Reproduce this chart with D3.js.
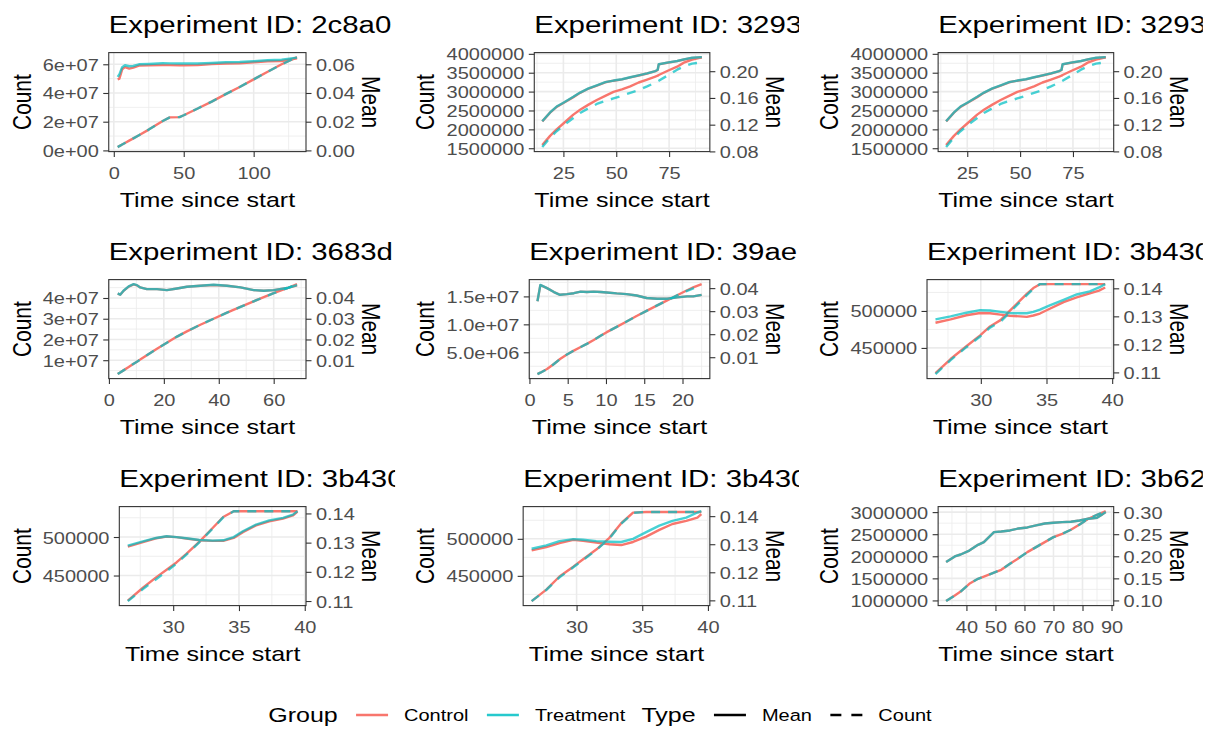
<!DOCTYPE html>
<html>
<head>
<meta charset="utf-8">
<script src="https://cdn.jsdelivr.net/npm/d3@7"></script>
<style>
  html, body { margin: 0; padding: 0; background: #ffffff; }
  svg { display: block; font-family: "Liberation Sans", Arial, Helvetica, sans-serif; }
</style>
</head>
<body>
<svg id="chart" width="1219" height="733"></svg>
<script>
// ------------------------------------------------------------------
// Data: cumulative count and running mean per group, per experiment
// ------------------------------------------------------------------
const groups = ["Control", "Treatment"];
const types = ["Mean", "Count"];

// Experiment 2c8a0
const time_2c8a0 = [2.8, 4, 6, 8, 11, 14, 18, 25, 35, 40, 47, 50, 60, 70, 80, 90, 100, 110, 120, 131];
const ctrlMean_2c8a0 = [0.0494, 0.0500, 0.0565, 0.0580, 0.0570, 0.0577, 0.0591, 0.0593, 0.0595, 0.0594, 0.0593, 0.0593, 0.0595, 0.0602, 0.0605, 0.0607, 0.0614, 0.0621, 0.0623, 0.0642];
const trtMean_2c8a0 = [0.0512, 0.0530, 0.0580, 0.0593, 0.0586, 0.0588, 0.0600, 0.0602, 0.0607, 0.0606, 0.0605, 0.0605, 0.0605, 0.0609, 0.0614, 0.0616, 0.0621, 0.0628, 0.0632, 0.0646];
const ctrlCount_2c8a0 = [2.3e6, 3.0e6, 4.1e6, 5.2e6, 6.8e6, 8.4e6, 1.06e7, 1.45e7, 2.05e7, 2.30e7, 2.32e7, 2.45e7, 2.92e7, 3.40e7, 3.92e7, 4.42e7, 4.95e7, 5.48e7, 6.00e7, 6.50e7];
const trtCount_2c8a0 = [2.3e6, 3.0e6, 4.1e6, 5.2e6, 6.8e6, 8.4e6, 1.06e7, 1.45e7, 2.05e7, 2.30e7, 2.32e7, 2.45e7, 2.92e7, 3.40e7, 3.92e7, 4.42e7, 4.95e7, 5.48e7, 6.00e7, 6.50e7];

// Experiment 3293
const time_3293 = [15, 18.7, 21.8, 25, 29.7, 32.9, 36.9, 40.8, 44.8, 48.7, 52.7, 56.6, 60.6, 64.6, 68.5, 69.6, 70.1, 74.1, 78.8, 82, 85.9, 90.5];
const ctrlMean_3293 = [0.1250, 0.1380, 0.1466, 0.1524, 0.1612, 0.1676, 0.1741, 0.1786, 0.1834, 0.1858, 0.1878, 0.1907, 0.1936, 0.1966, 0.2000, 0.2019, 0.2102, 0.2126, 0.2151, 0.2175, 0.2200, 0.2209];
const trtMean_3293 = [0.1252, 0.1383, 0.1471, 0.1529, 0.1617, 0.1680, 0.1744, 0.1788, 0.1836, 0.1860, 0.1880, 0.1909, 0.1938, 0.1968, 0.2002, 0.2021, 0.2104, 0.2128, 0.2153, 0.2177, 0.2202, 0.2211];
const ctrlCount_3293 = [1586000, 1828000, 2000000, 2155000, 2390000, 2517000, 2655000, 2776000, 2888000, 2991000, 3060000, 3138000, 3241000, 3319000, 3397000, 3420000, 3440000, 3545000, 3660000, 3767000, 3845000, 3905000];
const trtCount_3293 = [1530000, 1784000, 1950000, 2103000, 2300000, 2431000, 2560000, 2672000, 2750000, 2819000, 2890000, 2966000, 3040000, 3138000, 3240000, 3270000, 3285000, 3420000, 3580000, 3670000, 3740000, 3776000];

// Experiment 3683d
const time_3683d = [3.2, 4.1, 5.3, 7.2, 9, 10.2, 11.4, 13.8, 17.5, 21.1, 24.8, 28.4, 33.3, 38.1, 43, 47.9, 52.7, 56.4, 60, 64.9, 68.5];
const ctrlMean_3683d = [0.0421, 0.0416, 0.0434, 0.0455, 0.0466, 0.0461, 0.0451, 0.0443, 0.0443, 0.0438, 0.0446, 0.0454, 0.0459, 0.0463, 0.0459, 0.0451, 0.0438, 0.0435, 0.0438, 0.0448, 0.0461];
const trtMean_3683d = [0.0422, 0.0416, 0.0435, 0.0456, 0.0467, 0.0462, 0.0451, 0.0443, 0.0443, 0.0438, 0.0446, 0.0454, 0.0459, 0.0464, 0.0459, 0.0451, 0.0438, 0.0435, 0.0438, 0.0448, 0.0462];
const ctrlCount_3683d = [3.3e6, 4.1e6, 5.1e6, 6.7e6, 8.3e6, 9.3e6, 1.03e7, 1.24e7, 1.55e7, 1.84e7, 2.14e7, 2.39e7, 2.71e7, 3.00e7, 3.29e7, 3.57e7, 3.84e7, 4.04e7, 4.23e7, 4.47e7, 4.67e7];
const trtCount_3683d = [3.3e6, 4.1e6, 5.1e6, 6.7e6, 8.3e6, 9.3e6, 1.03e7, 1.24e7, 1.55e7, 1.84e7, 2.14e7, 2.39e7, 2.71e7, 3.00e7, 3.29e7, 3.57e7, 3.84e7, 4.04e7, 4.23e7, 4.47e7, 4.67e7];

// Experiment 39ae
const time_39ae = [1.05, 1.43, 2.3, 3.2, 4, 4.9, 5.8, 6.7, 7.5, 8.4, 9.3, 10.1, 11.4, 12.7, 14, 15.3, 16.7, 18, 19.3, 20.6, 21.4, 22.5];
const ctrlMean_39ae = [0.0343, 0.0413, 0.0400, 0.0383, 0.0371, 0.0374, 0.0378, 0.0385, 0.0383, 0.0385, 0.0383, 0.0381, 0.0377, 0.0374, 0.0368, 0.0357, 0.0354, 0.0354, 0.0360, 0.0364, 0.0364, 0.0371];
const trtMean_39ae = [0.0343, 0.0414, 0.0400, 0.0383, 0.0371, 0.0374, 0.0378, 0.0385, 0.0383, 0.0385, 0.0383, 0.0381, 0.0377, 0.0374, 0.0368, 0.0357, 0.0354, 0.0354, 0.0360, 0.0364, 0.0364, 0.0371];
const ctrlCount_39ae = [1.1e6, 1.35e6, 2.0e6, 2.9e6, 3.8e6, 4.6e6, 5.3e6, 5.95e6, 6.5e6, 7.2e6, 7.95e6, 8.6e6, 9.55e6, 1.05e7, 1.15e7, 1.24e7, 1.34e7, 1.43e7, 1.52e7, 1.61e7, 1.66e7, 1.72e7];
const trtCount_39ae = [1.1e6, 1.35e6, 2.0e6, 2.9e6, 3.8e6, 4.6e6, 5.3e6, 5.95e6, 6.5e6, 7.2e6, 7.95e6, 8.6e6, 9.55e6, 1.05e7, 1.15e7, 1.24e7, 1.34e7, 1.43e7, 1.52e7, 1.60e7, 1.645e7, 1.69e7];

// Experiment 3b430 (first run)
const time_3b430a = [26.55, 27.7, 28.9, 29.95, 30.7, 31.5, 32.2, 33.0, 33.5, 34.0, 34.5, 35.25, 36.3, 37.3, 38.3, 39.0, 39.47];
const ctrlMean_3b430a = [0.1277, 0.1289, 0.1304, 0.1312, 0.1311, 0.1306, 0.1302, 0.1300, 0.1298, 0.1303, 0.1310, 0.1327, 0.1351, 0.1368, 0.1382, 0.1392, 0.1403];
const trtMean_3b430a = [0.1289, 0.1300, 0.1313, 0.1322, 0.1321, 0.1316, 0.1312, 0.1311, 0.1311, 0.1316, 0.1324, 0.1339, 0.1359, 0.1378, 0.1389, 0.1403, 0.1415];
const ctrlCount_3b430a = [415900, 435000, 452200, 467000, 479000, 487600, 500000, 514200, 523000, 531000, 536000, 536300, 536300, 536300, 536300, 536300, 536300];
const trtCount_3b430a = [414600, 433500, 451000, 465500, 477500, 485400, 498000, 512500, 521500, 530000, 536300, 536300, 536300, 536300, 536300, 536300, 536300];

// Experiment 3b430 (second run)
const time_3b430b = [26.55, 27.7, 28.7, 29.5, 30.25, 31, 32, 33, 33.8, 34.6, 35.3, 36.3, 37.3, 38.35, 39.1, 39.45];
const ctrlMean_3b430b = [0.1286, 0.1302, 0.1315, 0.1321, 0.1319, 0.1314, 0.1308, 0.1306, 0.1306, 0.1316, 0.1336, 0.1359, 0.1373, 0.1382, 0.1393, 0.1406];
const trtMean_3b430b = [0.1290, 0.1304, 0.1316, 0.1322, 0.1319, 0.1315, 0.1309, 0.1307, 0.1308, 0.1319, 0.1339, 0.1362, 0.1376, 0.1385, 0.1396, 0.1408];
const ctrlCount_3b430b = [417400, 434100, 447600, 457400, 467000, 478000, 494000, 511700, 526000, 533500, 533500, 533500, 533500, 533500, 533500, 533500];
const trtCount_3b430b = [416800, 432500, 445000, 455500, 465500, 477000, 493500, 511000, 525500, 533500, 533500, 533500, 533500, 533500, 533500, 533500];

// Experiment 3b430 (third run)
const time_3b430c = [26.58, 27.7, 28.7, 29.75, 30.5, 31.5, 32.5, 33.4, 34.3, 35.3, 36.3, 37.3, 38.35, 39.2, 39.5];
const ctrlMean_3b430c = [0.1278, 0.1290, 0.1304, 0.1316, 0.1312, 0.1306, 0.1300, 0.1297, 0.1308, 0.1327, 0.1351, 0.1372, 0.1383, 0.1395, 0.1407];
const trtMean_3b430c = [0.1284, 0.1296, 0.1311, 0.1318, 0.1316, 0.1311, 0.1309, 0.1308, 0.1319, 0.1343, 0.1366, 0.1383, 0.1395, 0.1413, 0.1418];
const ctrlCount_3b430c = [415900, 431400, 449100, 462400, 472500, 485500, 501300, 521000, 535400, 536300, 536300, 536300, 536300, 536300, 536300];
const trtCount_3b430c = [415900, 431000, 448000, 461500, 471500, 484800, 500500, 520500, 535000, 536300, 536300, 536300, 536300, 536300, 536300];

// Experiment 3b62
const time_3b62 = [33, 36, 38, 41, 44, 46, 49.5, 52, 55, 58, 61, 64, 67, 70, 73, 76, 79, 82, 85, 86.5, 88];
const ctrlMean_3b62 = [0.1870, 0.1996, 0.2040, 0.2130, 0.2260, 0.2320, 0.2547, 0.2562, 0.2585, 0.2630, 0.2653, 0.2698, 0.2743, 0.2758, 0.2774, 0.2781, 0.2811, 0.2849, 0.2872, 0.2935, 0.3000];
const trtMean_3b62 = [0.1870, 0.1996, 0.2040, 0.2130, 0.2260, 0.2320, 0.2547, 0.2562, 0.2585, 0.2630, 0.2653, 0.2698, 0.2743, 0.2758, 0.2774, 0.2781, 0.2811, 0.2849, 0.2872, 0.2935, 0.3000];
const ctrlCount_3b62 = [985000, 1113000, 1200000, 1377000, 1491000, 1540000, 1630000, 1694000, 1830000, 1958000, 2094000, 2208000, 2321000, 2434000, 2509000, 2600000, 2721000, 2849000, 2940000, 2980000, 3023000];
const trtCount_3b62 = [985000, 1113000, 1200000, 1377000, 1491000, 1540000, 1630000, 1694000, 1830000, 1958000, 2094000, 2208000, 2321000, 2434000, 2509000, 2600000, 2721000, 2849000, 2940000, 2980000, 3023000];

// Secondary axis: count units per unit of mean, per panel
const meanFactor = [1e9, 1.77e7, 1.77e7, 1e9, 4.12e8, 3.79e6, 3.79e6, 3.79e6, 1e7];

// Panel titles (experiment id prefix)
const panelIds = ["2c8a0", "3293", "3293", "3683d", "39ae", "3b430", "3b430", "3b430", "3b62"];

// Tick values and labels
const countTicks_2c8a0 = [0, 2e7, 4e7, 6e7];
const countLabels_2c8a0 = ["0e+00", "2e+07", "4e+07", "6e+07"];
const countTicks_3293 = [1500000, 2000000, 2500000, 3000000, 3500000, 4000000];
const countLabels_3293 = ["1500000", "2000000", "2500000", "3000000", "3500000", "4000000"];
const countTicks_3683d = [1e7, 2e7, 3e7, 4e7];
const countLabels_3683d = ["1e+07", "2e+07", "3e+07", "4e+07"];
const countTicks_39ae = [5e6, 1e7, 1.5e7];
const countLabels_39ae = ["5.0e+06", "1.0e+07", "1.5e+07"];
const countTicks_3b430 = [450000, 500000];
const countLabels_3b430 = ["450000", "500000"];
const countTicks_3b62 = [1000000, 1500000, 2000000, 2500000, 3000000];
const countLabels_3b62 = ["1000000", "1500000", "2000000", "2500000", "3000000"];

const meanTicks_2c8a0 = [0, 0.02, 0.04, 0.06];
const meanTicks_3293 = [0.08, 0.12, 0.16, 0.20];
const meanTicks_3683d = [0.01, 0.02, 0.03, 0.04];
const meanTicks_39ae = [0.01, 0.02, 0.03, 0.04];
const meanTicks_3b430 = [0.11, 0.12, 0.13, 0.14];
const meanTicks_3b62 = [0.10, 0.15, 0.20, 0.25, 0.30];

const timeTicks_2c8a0 = [0, 50, 100];
const timeTicks_3293 = [25, 50, 75];
const timeTicks_3683d = [0, 20, 40, 60];
const timeTicks_39ae = [0, 5, 10, 15, 20];
const timeTicks_3b430 = [30, 35, 40];
const timeTicks_3b62 = [40, 50, 60, 70, 80, 90];

// Table of panels, built from the arrays above
const panels = [
  [time_2c8a0, ctrlMean_2c8a0, trtMean_2c8a0, ctrlCount_2c8a0, trtCount_2c8a0, countTicks_2c8a0, countLabels_2c8a0, meanTicks_2c8a0, timeTicks_2c8a0],
  [time_3293, ctrlMean_3293, trtMean_3293, ctrlCount_3293, trtCount_3293, countTicks_3293, countLabels_3293, meanTicks_3293, timeTicks_3293],
  [time_3293, ctrlMean_3293, trtMean_3293, ctrlCount_3293, trtCount_3293, countTicks_3293, countLabels_3293, meanTicks_3293, timeTicks_3293],
  [time_3683d, ctrlMean_3683d, trtMean_3683d, ctrlCount_3683d, trtCount_3683d, countTicks_3683d, countLabels_3683d, meanTicks_3683d, timeTicks_3683d],
  [time_39ae, ctrlMean_39ae, trtMean_39ae, ctrlCount_39ae, trtCount_39ae, countTicks_39ae, countLabels_39ae, meanTicks_39ae, timeTicks_39ae],
  [time_3b430a, ctrlMean_3b430a, trtMean_3b430a, ctrlCount_3b430a, trtCount_3b430a, countTicks_3b430, countLabels_3b430, meanTicks_3b430, timeTicks_3b430],
  [time_3b430b, ctrlMean_3b430b, trtMean_3b430b, ctrlCount_3b430b, trtCount_3b430b, countTicks_3b430, countLabels_3b430, meanTicks_3b430, timeTicks_3b430],
  [time_3b430c, ctrlMean_3b430c, trtMean_3b430c, ctrlCount_3b430c, trtCount_3b430c, countTicks_3b430, countLabels_3b430, meanTicks_3b430, timeTicks_3b430],
  [time_3b62, ctrlMean_3b62, trtMean_3b62, ctrlCount_3b62, trtCount_3b62, countTicks_3b62, countLabels_3b62, meanTicks_3b62, timeTicks_3b62]
].map((p, i) => ({
  id: panelIds[i], time: p[0], ctrlMean: p[1], trtMean: p[2], ctrlCount: p[3], trtCount: p[4],
  countTicks: p[5], countLabels: p[6], meanTicks: p[7], timeTicks: p[8], k: meanFactor[i]
}));

// ------------------------------------------------------------------
// Styling and layout
// ------------------------------------------------------------------
const colorOf = { Control: "#F8766D", Treatment: "#00BFC4" };
const opacityOf = { Control: 1, Treatment: 0.72 };
const SX = 1.2;                       // horizontal glyph stretch of the text
const fs = { title: 29.4, axisTitle: 25, tick: 20, legendTitle: 25, legendText: 20 };
const TICK = 5.5, PAD = 4.4;
const colBase = c => 52.6 + 403.85 * c;   // right edge of the left tick labels
const rowTop = r => 52.6 + 227 * r;
const panelH = 99;
const panelRight = 253.4;                 // panel right edge relative to colBase
const titleClip = 342.5;                  // right edge of the title area relative to colBase
const lineW = 2.4;
const dash = "9,8";

const svg = d3.select("#chart");
svg.append("rect").attr("width", 1219).attr("height", 733).attr("fill", "#fff");

const meas = svg.append("text").attr("visibility", "hidden");
function textWidth(str, size) {
  meas.attr("font-size", size / SX).text(str);
  return meas.node().getComputedTextLength() * SX;
}

function label(g, str, x, y, size, opts = {}) {
  const rot = opts.rotate ? ` rotate(${opts.rotate})` : "";
  return g.append("text")
    .attr("transform", `translate(${x},${y}) scale(${SX},1)${rot}`)
    .attr("font-size", size / SX)
    .attr("text-anchor", opts.anchor || "start")
    .attr("fill", opts.fill || "#000")
    .text(str);
}

function expand(ext) {
  const r = ext[1] - ext[0];
  return [ext[0] - 0.05 * r, ext[1] + 0.05 * r];
}

function minorBreaks(ticks, dom) {
  const step = ticks[1] - ticks[0];
  const out = [];
  let v = ticks[0] - step / 2;
  while (v - step >= dom[0]) v -= step;
  for (; v <= dom[1]; v += step) if (v >= dom[0]) out.push(v);
  return out;
}

function styleAxis(g, kind) {
  const fn = fs.tick / SX;
  g.attr("font-family", null).attr("font-size", null);
  g.select(".domain").remove();
  g.selectAll(".tick line").attr("stroke", "#333333").attr("stroke-width", 1.1);
  g.selectAll(".tick text").each(function () {
    let tx = 0, ty = 0;
    if (kind === "left") { tx = -(TICK + PAD); ty = 0.36 * fn; }
    if (kind === "right") { tx = TICK + PAD; ty = 0.36 * fn; }
    if (kind === "bottom") { ty = 27.5; }
    d3.select(this)
      .attr("x", null).attr("y", null).attr("dy", null)
      .attr("transform", `translate(${tx},${ty}) scale(${SX},1)`)
      .attr("font-size", fn)
      .attr("fill", "#4D4D4D");
  });
}

// ------------------------------------------------------------------
// Panels
// ------------------------------------------------------------------
panels.forEach((p, i) => {
  const col = i % 3, row = Math.floor(i / 3);
  const base = colBase(col);
  const labelW = d3.max(p.countLabels, s => textWidth(s, fs.tick));
  const left = base + labelW;
  const right = base + panelRight;
  const top = rowTop(row);
  const bottom = top + panelH;

  const x = d3.scaleLinear().domain(expand(d3.extent(p.time))).range([left, right]);
  const allY = [].concat(p.ctrlCount, p.trtCount, p.ctrlMean.map(v => v * p.k), p.trtMean.map(v => v * p.k));
  const y = d3.scaleLinear().domain(expand(d3.extent(allY))).range([bottom, top]);
  const yMean = d3.scaleLinear().domain(y.domain().map(v => v / p.k)).range([bottom, top]);

  const g = svg.append("g");

  // panel background and grid
  g.append("rect").attr("x", left).attr("y", top).attr("width", right - left).attr("height", bottom - top).attr("fill", "#fff");
  const grid = g.append("g").attr("stroke", "#EBEBEB").attr("fill", "none");
  minorBreaks(p.timeTicks, x.domain()).forEach(v =>
    grid.append("line").attr("x1", x(v)).attr("x2", x(v)).attr("y1", top).attr("y2", bottom).attr("stroke-width", 0.8));
  minorBreaks(p.countTicks, y.domain()).forEach(v =>
    grid.append("line").attr("x1", left).attr("x2", right).attr("y1", y(v)).attr("y2", y(v)).attr("stroke-width", 0.8));
  p.timeTicks.forEach(v =>
    grid.append("line").attr("x1", x(v)).attr("x2", x(v)).attr("y1", top).attr("y2", bottom).attr("stroke-width", 1.6));
  p.countTicks.forEach(v =>
    grid.append("line").attr("x1", left).attr("x2", right).attr("y1", y(v)).attr("y2", y(v)).attr("stroke-width", 1.6));

  // series
  const line = d3.line().x(d => x(d[0])).y(d => y(d[1]));
  const series = [
    { group: "Control", type: "Mean", values: p.ctrlMean.map(v => v * p.k) },
    { group: "Control", type: "Count", values: p.ctrlCount },
    { group: "Treatment", type: "Mean", values: p.trtMean.map(v => v * p.k) },
    { group: "Treatment", type: "Count", values: p.trtCount }
  ];
  series.forEach(s => {
    g.append("path")
      .datum(p.time.map((t, j) => [t, s.values[j]]))
      .attr("d", line)
      .attr("fill", "none")
      .attr("stroke", colorOf[s.group])
      .attr("stroke-opacity", opacityOf[s.group])
      .attr("stroke-width", lineW)
      .attr("stroke-linejoin", "round")
      .attr("stroke-dasharray", s.type === "Count" && s.group === "Treatment" ? dash : null);
  });

  // border
  g.append("rect").attr("x", left).attr("y", top).attr("width", right - left).attr("height", bottom - top)
    .attr("fill", "none").attr("stroke", "#333333").attr("stroke-width", 1.1);

  // axes
  const axL = g.append("g").attr("transform", `translate(${left},0)`)
    .call(d3.axisLeft(y).tickValues(p.countTicks).tickFormat((d, j) => p.countLabels[j])
      .tickSizeInner(TICK).tickSizeOuter(0).tickPadding(PAD));
  styleAxis(axL, "left");
  const axR = g.append("g").attr("transform", `translate(${right},0)`)
    .call(d3.axisRight(yMean).tickValues(p.meanTicks).tickFormat(d3.format(".2f"))
      .tickSizeInner(TICK).tickSizeOuter(0).tickPadding(PAD));
  styleAxis(axR, "right");
  const axB = g.append("g").attr("transform", `translate(0,${bottom})`)
    .call(d3.axisBottom(x).tickValues(p.timeTicks).tickFormat(d3.format("d"))
      .tickSizeInner(TICK).tickSizeOuter(0).tickPadding(PAD));
  styleAxis(axB, "bottom");

  // axis titles
  label(g, "Time since start", (left + right) / 2, bottom + 55, fs.axisTitle, { anchor: "middle" });
  label(g, "Count", base - 22, (top + bottom) / 2, fs.axisTitle, { anchor: "middle", rotate: -90 });
  label(g, "Mean", right + 56, (top + bottom) / 2, fs.axisTitle, { anchor: "middle", rotate: 90 });

  // panel title, clipped to its cell
  const clipId = "title-clip-" + i;
  svg.append("clipPath").attr("id", clipId)
    .append("rect").attr("x", base - 60).attr("y", top - 60).attr("width", titleClip + 60).attr("height", 60);
  const tg = g.append("g").attr("clip-path", `url(#${clipId})`);
  label(tg, "Experiment ID: " + p.id, left, top - 19.5, fs.title);
});

// ------------------------------------------------------------------
// Legend
// ------------------------------------------------------------------
const legendItems = [
  { kind: "title", text: "Group" },
  { kind: "key", color: colorOf.Control, dash: null }, { kind: "label", text: groups[0] },
  { kind: "key", color: colorOf.Treatment, dash: null }, { kind: "label", text: groups[1] },
  { kind: "title", text: "Type" },
  { kind: "key", color: "#000", dash: null }, { kind: "label", text: types[0] },
  { kind: "key", color: "#000", dash: "11,10" }, { kind: "label", text: types[1] }
];
const KEY = 32;
const gapAfter = { title: 18.3, key: 16, label: 18.4 };
function itemWidth(it) {
  if (it.kind === "key") return KEY;
  return textWidth(it.text, it.kind === "title" ? fs.legendTitle : fs.legendText);
}
function gapBetween(it, next) {
  return (it.kind === "label" && next.kind === "title") ? 16.2 : gapAfter[it.kind];
}
let total = 0;
legendItems.forEach((it, j) => {
  total += itemWidth(it);
  if (j < legendItems.length - 1) total += gapBetween(it, legendItems[j + 1]);
});
const legendCY = 715;
const lg = svg.append("g");
let lx = 600 - total / 2;
legendItems.forEach((it, j) => {
  if (it.kind === "key") {
    lg.append("line").attr("x1", lx).attr("x2", lx + KEY).attr("y1", legendCY).attr("y2", legendCY)
      .attr("stroke", it.color).attr("stroke-width", lineW)
      .attr("stroke-opacity", it.color === colorOf.Treatment ? 0.85 : 1)
      .attr("stroke-dasharray", it.dash);
  } else if (it.kind === "title") {
    label(lg, it.text, lx, legendCY + 7.3, fs.legendTitle);
  } else {
    label(lg, it.text, lx, legendCY + 6, fs.legendText);
  }
  lx += itemWidth(it);
  if (j < legendItems.length - 1) lx += gapBetween(it, legendItems[j + 1]);
});
meas.remove();
</script>
</body>
</html>
